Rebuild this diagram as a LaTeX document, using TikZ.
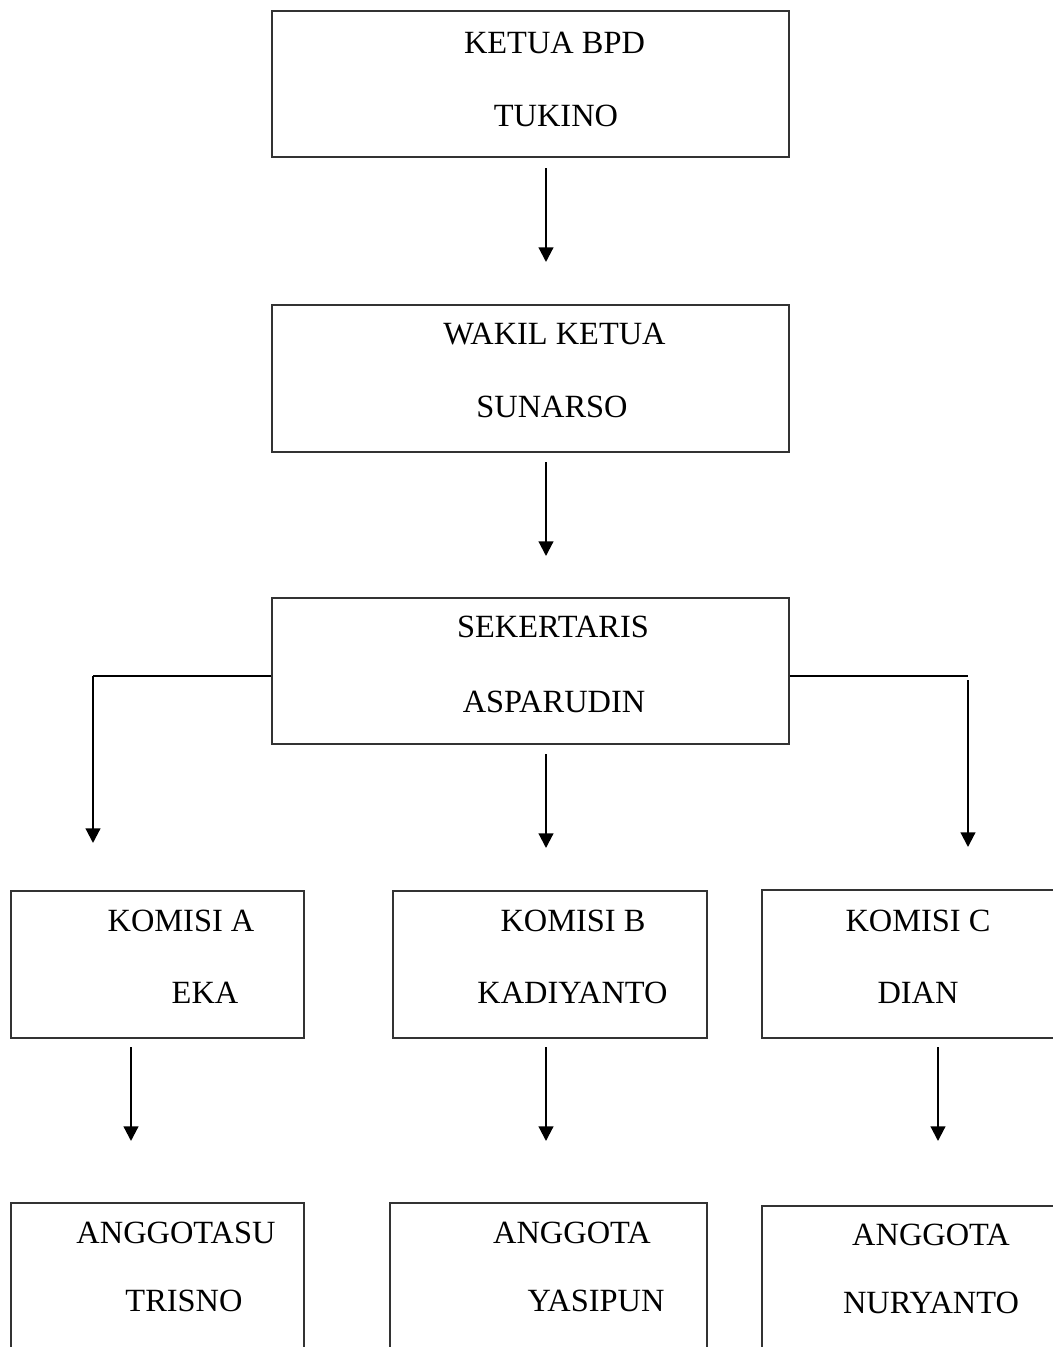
\documentclass[tikz,border=0pt]{standalone}
\usepackage{fontspec}
\setmainfont{Liberation Serif}
\usetikzlibrary{arrows.meta,fit}
\begin{document}
\begin{tikzpicture}[x=0.75pt,y=-0.75pt,
  box/.style={draw=black!80, line width=0.8pt, inner sep=0pt, fit={#1}},
  lbl/.style={font=\fontsize{24.3}{28}\selectfont, inner sep=0pt},
  arr/.style={line width=1.6pt, -{Triangle[length=11pt,width=11pt]}},
  link/.style={line width=1.4pt}]
\useasboundingbox (0,0) rectangle (1053,1347);
\clip (0,0) rectangle (1053,1347);
% boxes
\node[box={(272,11)(789,157)}] (ketua) {};
\node[box={(272,305)(789,452)}] (wakil) {};
\node[box={(272,598)(789,744)}] (sek) {};
\node[box={(11,891)(304,1038)}] (ka) {};
\node[box={(393,891)(707,1038)}] (kb) {};
\node[box={(762,890)(1070,1038)}] (kc) {};
\node[box={(11,1203)(304,1370)}] (aa) {};
\node[box={(390,1203)(707,1370)}] (ab) {};
\node[box={(762,1206)(1070,1370)}] (ac) {};
% labels
\node[lbl] (t1) at (554.5,43) {KETUA BPD};
\node[lbl] (t2) at (556,116) {TUKINO};
\node[lbl] (t3) at (554.5,334) {WAKIL KETUA};
\node[lbl] (t4) at (552,407) {SUNARSO};
\node[lbl] (t5) at (553,627) {SEKERTARIS};
\node[lbl] (t6) at (554,702) {ASPARUDIN};
\node[lbl] (t7) at (181,921) {KOMISI A};
\node[lbl] (t8) at (205,993) {EKA};
\node[lbl] (t9) at (573,921) {KOMISI B};
\node[lbl] (t10) at (572.5,993) {KADIYANTO};
\node[lbl] (t11) at (918,921) {KOMISI C};
\node[lbl] (t12) at (918,993) {DIAN};
\node[lbl] (t13) at (176,1233) {ANGGOTASU};
\node[lbl] (t14) at (184,1301) {TRISNO};
\node[lbl] (t15) at (572,1233) {ANGGOTA};
\node[lbl] (t16) at (596,1301) {YASIPUN};
\node[lbl] (t17) at (931,1235) {ANGGOTA};
\node[lbl] (t18) at (931,1303) {NURYANTO};
% connector coordinates
\coordinate (a1s) at (546,168); \coordinate (a1e) at (546,262);
\coordinate (a2s) at (546,462); \coordinate (a2e) at (546,556);
\coordinate (a3s) at (546,754); \coordinate (a3e) at (546,848);
\coordinate (lj) at (93,676);  \coordinate (le) at (93,843);
\coordinate (rj) at (968,676); \coordinate (rs) at (968,680); \coordinate (re) at (968,847);
\coordinate (b1s) at (131,1047); \coordinate (b1e) at (131,1141);
\coordinate (b2s) at (546,1047); \coordinate (b2e) at (546,1141);
\coordinate (b3s) at (938,1047); \coordinate (b3e) at (938,1141);
% connectors
\draw[arr] (a1s) -- (a1e);
\draw[arr] (a2s) -- (a2e);
\draw[arr] (a3s) -- (a3e);
\draw[link] (sek.west |- lj) -- (lj);
\draw[arr] (lj) -- (le);
\draw[link] (sek.east |- rj) -- (rj);
\draw[arr] (rs) -- (re);
\draw[arr] (b1s) -- (b1e);
\draw[arr] (b2s) -- (b2e);
\draw[arr] (b3s) -- (b3e);
\end{tikzpicture}
\end{document}
